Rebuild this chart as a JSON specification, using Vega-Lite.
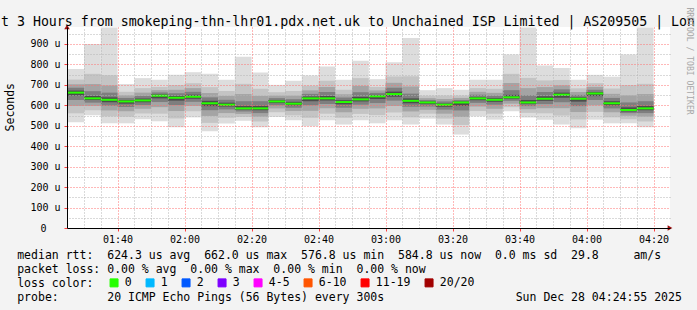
{
"$schema": "https://vega.github.io/schema/vega-lite/v6.json",
"width": 603, "height": 201,
"autosize": {"type": "none"},
"padding": {"left": 67, "top": 27, "right": 27, "bottom": 82},
"background": "#f3f3f3",
"config": {"view": {"fill": "#ffffff", "stroke": null}, "font": "DejaVu Sans Mono"},
"title": {"text": "t 3 Hours from smokeping-thn-lhr01.pdx.net.uk to Unchained ISP Limited | AS209505 | Lon", "anchor": "start", "frame": "group", "dx": -66, "offset": -32, "baseline": "alphabetic", "font": "DejaVu Sans Mono", "fontSize": 13.25, "fontWeight": "normal", "color": "#000000"},
"data": {"values": [
{"t":"2025-12-28T01:25:00Z","e":"2025-12-28T01:30:00Z","med":662,"loss":"0","a1":517,"b1":778,"a2":561,"b2":726,"a3":597,"b3":703,"a4":626,"b4":686,"a5":648,"b5":672},
{"t":"2025-12-28T01:30:00Z","e":"2025-12-28T01:35:00Z","med":634,"loss":"0","a1":551,"b1":900,"a2":576,"b2":754,"a3":597,"b3":704,"a4":613,"b4":669,"a5":626,"b5":646},
{"t":"2025-12-28T01:35:00Z","e":"2025-12-28T01:40:00Z","med":627,"loss":"0","a1":512,"b1":981,"a2":546,"b2":747,"a3":575,"b3":697,"a4":598,"b4":662,"a5":615,"b5":639},
{"t":"2025-12-28T01:40:00Z","e":"2025-12-28T01:45:00Z","med":619,"loss":"0","a1":512,"b1":704,"a2":544,"b2":666,"a3":571,"b3":649,"a4":592,"b4":636,"a5":608,"b5":626},
{"t":"2025-12-28T01:45:00Z","e":"2025-12-28T01:50:00Z","med":624,"loss":"0","a1":532,"b1":733,"a2":560,"b2":684,"a3":583,"b3":662,"a4":601,"b4":646,"a5":615,"b5":633},
{"t":"2025-12-28T01:50:00Z","e":"2025-12-28T01:55:00Z","med":647,"loss":"0","a1":522,"b1":725,"a2":559,"b2":690,"a3":591,"b3":674,"a4":616,"b4":663,"a5":634,"b5":653},
{"t":"2025-12-28T01:55:00Z","e":"2025-12-28T02:00:00Z","med":637,"loss":"0","a1":493,"b1":749,"a2":536,"b2":699,"a3":572,"b3":676,"a4":601,"b4":659,"a5":623,"b5":646},
{"t":"2025-12-28T02:00:00Z","e":"2025-12-28T02:05:00Z","med":642,"loss":"0","a1":541,"b1":762,"a2":571,"b2":708,"a3":597,"b3":684,"a4":617,"b4":666,"a5":632,"b5":652},
{"t":"2025-12-28T02:05:00Z","e":"2025-12-28T02:10:00Z","med":610,"loss":"0","a1":473,"b1":754,"a2":514,"b2":689,"a3":548,"b3":660,"a4":576,"b4":639,"a5":596,"b5":622},
{"t":"2025-12-28T02:10:00Z","e":"2025-12-28T02:15:00Z","med":603,"loss":"0","a1":511,"b1":725,"a2":539,"b2":670,"a3":562,"b3":646,"a4":580,"b4":627,"a5":594,"b5":613},
{"t":"2025-12-28T02:15:00Z","e":"2025-12-28T02:20:00Z","med":585,"loss":"0","a1":525,"b1":838,"a2":543,"b2":705,"a3":558,"b3":655,"a4":570,"b4":620,"a5":579,"b5":597},
{"t":"2025-12-28T02:20:00Z","e":"2025-12-28T02:25:00Z","med":585,"loss":"0","a1":493,"b1":760,"a2":521,"b2":681,"a3":544,"b3":646,"a4":562,"b4":620,"a5":576,"b5":597},
{"t":"2025-12-28T02:25:00Z","e":"2025-12-28T02:30:00Z","med":619,"loss":"0","a1":543,"b1":700,"a2":566,"b2":664,"a3":585,"b3":647,"a4":600,"b4":635,"a5":611,"b5":625},
{"t":"2025-12-28T02:30:00Z","e":"2025-12-28T02:35:00Z","med":608,"loss":"0","a1":527,"b1":720,"a2":551,"b2":670,"a3":572,"b3":647,"a4":588,"b4":630,"a5":600,"b5":617},
{"t":"2025-12-28T02:35:00Z","e":"2025-12-28T02:40:00Z","med":634,"loss":"0","a1":498,"b1":746,"a2":539,"b2":696,"a3":573,"b3":673,"a4":600,"b4":656,"a5":620,"b5":643},
{"t":"2025-12-28T02:40:00Z","e":"2025-12-28T02:45:00Z","med":634,"loss":"0","a1":527,"b1":790,"a2":559,"b2":720,"a3":586,"b3":689,"a4":607,"b4":665,"a5":623,"b5":646},
{"t":"2025-12-28T02:45:00Z","e":"2025-12-28T02:50:00Z","med":616,"loss":"0","a1":506,"b1":725,"a2":539,"b2":676,"a3":566,"b3":654,"a4":588,"b4":638,"a5":605,"b5":625},
{"t":"2025-12-28T02:50:00Z","e":"2025-12-28T02:55:00Z","med":629,"loss":"0","a1":527,"b1":818,"a2":558,"b2":733,"a3":583,"b3":695,"a4":603,"b4":664,"a5":619,"b5":641},
{"t":"2025-12-28T02:55:00Z","e":"2025-12-28T03:00:00Z","med":644,"loss":"0","a1":512,"b1":728,"a2":552,"b2":690,"a3":585,"b3":673,"a4":611,"b4":661,"a5":631,"b5":651},
{"t":"2025-12-28T03:00:00Z","e":"2025-12-28T03:05:00Z","med":655,"loss":"0","a1":527,"b1":811,"a2":565,"b2":741,"a3":597,"b3":710,"a4":623,"b4":686,"a5":642,"b5":667},
{"t":"2025-12-28T03:05:00Z","e":"2025-12-28T03:10:00Z","med":622,"loss":"0","a1":506,"b1":929,"a2":541,"b2":742,"a3":570,"b3":692,"a4":593,"b4":657,"a5":610,"b5":634},
{"t":"2025-12-28T03:10:00Z","e":"2025-12-28T03:15:00Z","med":614,"loss":"0","a1":535,"b1":674,"a2":559,"b2":647,"a3":578,"b3":635,"a4":594,"b4":626,"a5":606,"b5":619},
{"t":"2025-12-28T03:15:00Z","e":"2025-12-28T03:20:00Z","med":603,"loss":"0","a1":506,"b1":684,"a2":535,"b2":648,"a3":559,"b3":631,"a4":579,"b4":619,"a5":593,"b5":609},
{"t":"2025-12-28T03:20:00Z","e":"2025-12-28T03:25:00Z","med":614,"loss":"0","a1":457,"b1":676,"a2":504,"b2":648,"a3":543,"b3":636,"a4":575,"b4":626,"a5":598,"b5":619},
{"t":"2025-12-28T03:25:00Z","e":"2025-12-28T03:30:00Z","med":634,"loss":"0","a1":546,"b1":725,"a2":572,"b2":684,"a3":594,"b3":666,"a4":612,"b4":652,"a5":625,"b5":641},
{"t":"2025-12-28T03:30:00Z","e":"2025-12-28T03:35:00Z","med":627,"loss":"0","a1":530,"b1":725,"a2":559,"b2":681,"a3":583,"b3":661,"a4":603,"b4":647,"a5":617,"b5":635},
{"t":"2025-12-28T03:35:00Z","e":"2025-12-28T03:40:00Z","med":639,"loss":"0","a1":571,"b1":848,"a2":591,"b2":754,"a3":608,"b3":709,"a4":622,"b4":674,"a5":632,"b5":651},
{"t":"2025-12-28T03:40:00Z","e":"2025-12-28T03:45:00Z","med":614,"loss":"0","a1":541,"b1":981,"a2":563,"b2":734,"a3":581,"b3":684,"a4":596,"b4":649,"a5":607,"b5":626},
{"t":"2025-12-28T03:45:00Z","e":"2025-12-28T03:50:00Z","med":632,"loss":"0","a1":530,"b1":795,"a2":561,"b2":722,"a3":586,"b3":689,"a4":606,"b4":665,"a5":622,"b5":644},
{"t":"2025-12-28T03:50:00Z","e":"2025-12-28T03:55:00Z","med":652,"loss":"0","a1":506,"b1":783,"a2":550,"b2":724,"a3":586,"b3":698,"a4":615,"b4":678,"a5":637,"b5":662},
{"t":"2025-12-28T03:55:00Z","e":"2025-12-28T04:00:00Z","med":632,"loss":"0","a1":488,"b1":725,"a2":531,"b2":683,"a3":567,"b3":665,"a4":596,"b4":651,"a5":618,"b5":639},
{"t":"2025-12-28T04:00:00Z","e":"2025-12-28T04:05:00Z","med":658,"loss":"0","a1":530,"b1":749,"a2":568,"b2":708,"a3":600,"b3":690,"a4":626,"b4":676,"a5":645,"b5":665},
{"t":"2025-12-28T04:05:00Z","e":"2025-12-28T04:10:00Z","med":610,"loss":"0","a1":512,"b1":740,"a2":541,"b2":682,"a3":566,"b3":656,"a4":585,"b4":636,"a5":600,"b5":620},
{"t":"2025-12-28T04:10:00Z","e":"2025-12-28T04:15:00Z","med":577,"loss":"0","a1":512,"b1":848,"a2":532,"b2":699,"a3":549,"b3":649,"a4":562,"b4":614,"a5":570,"b5":590},
{"t":"2025-12-28T04:15:00Z","e":"2025-12-28T04:20:00Z","med":585,"loss":"0","a1":493,"b1":981,"a2":521,"b2":705,"a3":544,"b3":655,"a4":562,"b4":620,"a5":576,"b5":597}
]},
"layer": [
{"mark": {"type": "rect", "color": "#dddddd"},
 "encoding": {
  "x": {"field": "t", "type": "temporal",
   "scale": {"type": "utc", "domain": [{"year": 2025, "month": 12, "date": 28, "hours": 1, "minutes": 24, "seconds": 55, "utc": true}, {"year": 2025, "month": 12, "date": 28, "hours": 4, "minutes": 24, "seconds": 55, "utc": true}]},
   "axis": {"orient": "top", "values": [
     {"year": 2025, "month": 12, "date": 28, "hours": 1, "minutes": 25, "utc": true}, {"year": 2025, "month": 12, "date": 28, "hours": 1, "minutes": 30, "utc": true}, {"year": 2025, "month": 12, "date": 28, "hours": 1, "minutes": 35, "utc": true},
     {"year": 2025, "month": 12, "date": 28, "hours": 1, "minutes": 45, "utc": true}, {"year": 2025, "month": 12, "date": 28, "hours": 1, "minutes": 50, "utc": true}, {"year": 2025, "month": 12, "date": 28, "hours": 1, "minutes": 55, "utc": true},
     {"year": 2025, "month": 12, "date": 28, "hours": 2, "minutes": 5, "utc": true}, {"year": 2025, "month": 12, "date": 28, "hours": 2, "minutes": 10, "utc": true}, {"year": 2025, "month": 12, "date": 28, "hours": 2, "minutes": 15, "utc": true},
     {"year": 2025, "month": 12, "date": 28, "hours": 2, "minutes": 25, "utc": true}, {"year": 2025, "month": 12, "date": 28, "hours": 2, "minutes": 30, "utc": true}, {"year": 2025, "month": 12, "date": 28, "hours": 2, "minutes": 35, "utc": true},
     {"year": 2025, "month": 12, "date": 28, "hours": 2, "minutes": 45, "utc": true}, {"year": 2025, "month": 12, "date": 28, "hours": 2, "minutes": 50, "utc": true}, {"year": 2025, "month": 12, "date": 28, "hours": 2, "minutes": 55, "utc": true},
     {"year": 2025, "month": 12, "date": 28, "hours": 3, "minutes": 5, "utc": true}, {"year": 2025, "month": 12, "date": 28, "hours": 3, "minutes": 10, "utc": true}, {"year": 2025, "month": 12, "date": 28, "hours": 3, "minutes": 15, "utc": true},
     {"year": 2025, "month": 12, "date": 28, "hours": 3, "minutes": 25, "utc": true}, {"year": 2025, "month": 12, "date": 28, "hours": 3, "minutes": 30, "utc": true}, {"year": 2025, "month": 12, "date": 28, "hours": 3, "minutes": 35, "utc": true},
     {"year": 2025, "month": 12, "date": 28, "hours": 3, "minutes": 45, "utc": true}, {"year": 2025, "month": 12, "date": 28, "hours": 3, "minutes": 50, "utc": true}, {"year": 2025, "month": 12, "date": 28, "hours": 3, "minutes": 55, "utc": true},
     {"year": 2025, "month": 12, "date": 28, "hours": 4, "minutes": 5, "utc": true}, {"year": 2025, "month": 12, "date": 28, "hours": 4, "minutes": 10, "utc": true}, {"year": 2025, "month": 12, "date": 28, "hours": 4, "minutes": 15, "utc": true}],
    "grid": true, "gridColor": "#b4b4b4", "gridDash": [1, 2], "gridWidth": 1, "labels": false, "ticks": false, "domain": false, "title": null, "zindex": 1}},
  "x2": {"field": "e"},
  "y": {"field": "a1", "type": "quantitative", "scale": {"domain": [0, 983], "nice": false, "zero": true},
   "axis": {"orient": "right", "values": [50, 150, 250, 350, 450, 550, 650, 750, 850, 950], "grid": true, "gridColor": "#b4b4b4", "gridDash": [1, 2], "gridWidth": 1, "labels": false, "ticks": false, "domain": false,
    "title": "RRDTOOL / TOBI OETIKER", "titleAngle": 90, "titleX": 18, "titleY": -20, "titleAlign": "left", "titleBaseline": "middle", "titleFont": "DejaVu Sans Mono", "titleFontSize": 8.1, "titleFontWeight": "normal", "titleColor": "#a8a8a8", "zindex": 1}},
  "y2": {"field": "b1"}}},
{"mark": {"type": "rect", "color": "#c4c4c4"},
 "encoding": {"x": {"field": "t", "type": "temporal", "axis": null}, "x2": {"field": "e"}, "y": {"field": "a2", "type": "quantitative", "axis": null}, "y2": {"field": "b2"}}},
{"mark": {"type": "rect", "color": "#a4a4a4"},
 "encoding": {"x": {"field": "t", "type": "temporal", "axis": null}, "x2": {"field": "e"}, "y": {"field": "a3", "type": "quantitative", "axis": null}, "y2": {"field": "b3"}}},
{"mark": {"type": "rect", "color": "#7e7e7e"},
 "encoding": {"x": {"field": "t", "type": "temporal", "axis": null}, "x2": {"field": "e"}, "y": {"field": "a4", "type": "quantitative", "axis": null}, "y2": {"field": "b4"}}},
{"mark": {"type": "rect", "color": "#4c4c4c"},
 "encoding": {"x": {"field": "t", "type": "temporal", "axis": null}, "x2": {"field": "e"}, "y": {"field": "a5", "type": "quantitative", "axis": null}, "y2": {"field": "b5"}}},
{"mark": {"type": "rule", "strokeWidth": 2, "strokeCap": "butt"},
 "encoding": {
  "x": {"field": "t", "type": "temporal",
   "axis": {"orient": "bottom", "values": [
     {"year": 2025, "month": 12, "date": 28, "hours": 1, "minutes": 40, "utc": true}, {"year": 2025, "month": 12, "date": 28, "hours": 2, "minutes": 0, "utc": true}, {"year": 2025, "month": 12, "date": 28, "hours": 2, "minutes": 20, "utc": true},
     {"year": 2025, "month": 12, "date": 28, "hours": 2, "minutes": 40, "utc": true}, {"year": 2025, "month": 12, "date": 28, "hours": 3, "minutes": 0, "utc": true}, {"year": 2025, "month": 12, "date": 28, "hours": 3, "minutes": 20, "utc": true},
     {"year": 2025, "month": 12, "date": 28, "hours": 3, "minutes": 40, "utc": true}, {"year": 2025, "month": 12, "date": 28, "hours": 4, "minutes": 0, "utc": true}, {"year": 2025, "month": 12, "date": 28, "hours": 4, "minutes": 20, "utc": true}],
    "format": "%H:%M", "grid": true, "gridColor": "#ff7070", "gridDash": [1, 2], "gridWidth": 1,
    "labelFont": "DejaVu Sans Mono", "labelFontSize": 10, "labelColor": "#000000", "labelPadding": 3, "tickSize": 3, "tickColor": "#ff4040", "domainColor": "#000000", "domainWidth": 1, "labelFlush": false, "labelOverlap": false,
    "title": ["median rtt:\u00a0\u00a0624.3 us avg\u00a0\u00a0662.0 us max\u00a0\u00a0576.8 us min\u00a0\u00a0584.8 us now\u00a0\u00a00.0 ms sd\u00a0\u00a029.8\u00a0\u00a0\u00a0\u00a0\u00a0am/s", "packet loss: 0.00 % avg\u00a0\u00a00.00 % max\u00a0\u00a00.00 % min\u00a0\u00a00.00 % now", "loss color:", "probe:\u00a0\u00a0\u00a0\u00a0\u00a0\u00a0\u00a020 ICMP Echo Pings (56 Bytes) every 300s\u00a0\u00a0\u00a0\u00a0\u00a0\u00a0\u00a0\u00a0\u00a0\u00a0\u00a0\u00a0\u00a0\u00a0\u00a0\u00a0\u00a0\u00a0\u00a0Sun Dec 28 04:24:55 2025"],
    "titleX": -50.3, "titleY": 30, "titleAlign": "left", "titleBaseline": "alphabetic", "titleFont": "DejaVu Sans Mono", "titleFontSize": 11.5, "titleFontWeight": "normal", "titleColor": "#000000", "titleLineHeight": 14, "zindex": 2}},
  "x2": {"field": "e"},
  "y": {"field": "med", "type": "quantitative",
   "axis": {"orient": "left", "values": [0, 100, 200, 300, 400, 500, 600, 700, 800, 900], "labelExpr": "datum.value == 0 ? '0\u2800\u2800' : datum.value + '\u00a0u'", "grid": true, "gridColor": "#ff7070", "gridDash": [1, 2], "gridWidth": 1,
    "labelFont": "DejaVu Sans Mono", "labelFontSize": 10, "labelColor": "#000000", "labelPadding": 4, "tickSize": 3, "tickColor": "#ff4040", "domainColor": "#000000", "domainWidth": 1,
    "title": "Seconds", "titleX": -56.5, "titleY": 79.7, "titleAngle": 270, "titleAlign": "center", "titleBaseline": "middle", "titleFont": "DejaVu Sans Mono", "titleFontSize": 11.5, "titleFontWeight": "normal", "titleColor": "#000000", "zindex": 2}},
  "color": {"field": "loss", "type": "nominal",
   "scale": {"domain": ["0", "1", "2", "3", "4-5", "6-10", "11-19", "20/20"], "range": ["#26ff00", "#00b8ff", "#0059ff", "#7e00ff", "#ff00ff", "#ff5500", "#ff0000", "#a10000"]},
   "legend": {"title": null, "orient": "none", "legendX": 41.3, "legendY": 250, "direction": "horizontal", "columns": 8,
    "symbolType": "square", "symbolSize": 64, "symbolStrokeWidth": 1, "symbolStrokeColor": "#000000", "symbolOpacity": 1,
    "labelFont": "DejaVu Sans Mono", "labelFontSize": 11.5, "labelColor": "#000000", "labelOffset": 5, "columnPadding": 11, "padding": 0,
    "encode": {"symbols": {"update": {"fill": {"scale": "color", "field": "value"}, "stroke": {"value": "#000000"}, "strokeWidth": {"value": 1}, "opacity": {"value": 1}}}}}}}},
{"data": {"values": [{"t": "2025-12-28T04:24:55Z", "v": 0}]},
 "mark": {"type": "point", "shape": "triangle-right", "filled": true, "size": 30, "opacity": 1, "color": "#a01010"},
 "encoding": {"x": {"field": "t", "type": "temporal", "axis": null}, "y": {"field": "v", "type": "quantitative", "axis": null}}},
{"data": {"values": [{"t": "2025-12-28T01:24:55Z", "v": 983}]},
 "mark": {"type": "point", "shape": "triangle-up", "filled": true, "size": 30, "opacity": 1, "color": "#a01010"},
 "encoding": {"x": {"field": "t", "type": "temporal", "axis": null}, "y": {"field": "v", "type": "quantitative", "axis": null}}}
],
"resolve": {"axis": {"x": "independent", "y": "independent"}}
}
